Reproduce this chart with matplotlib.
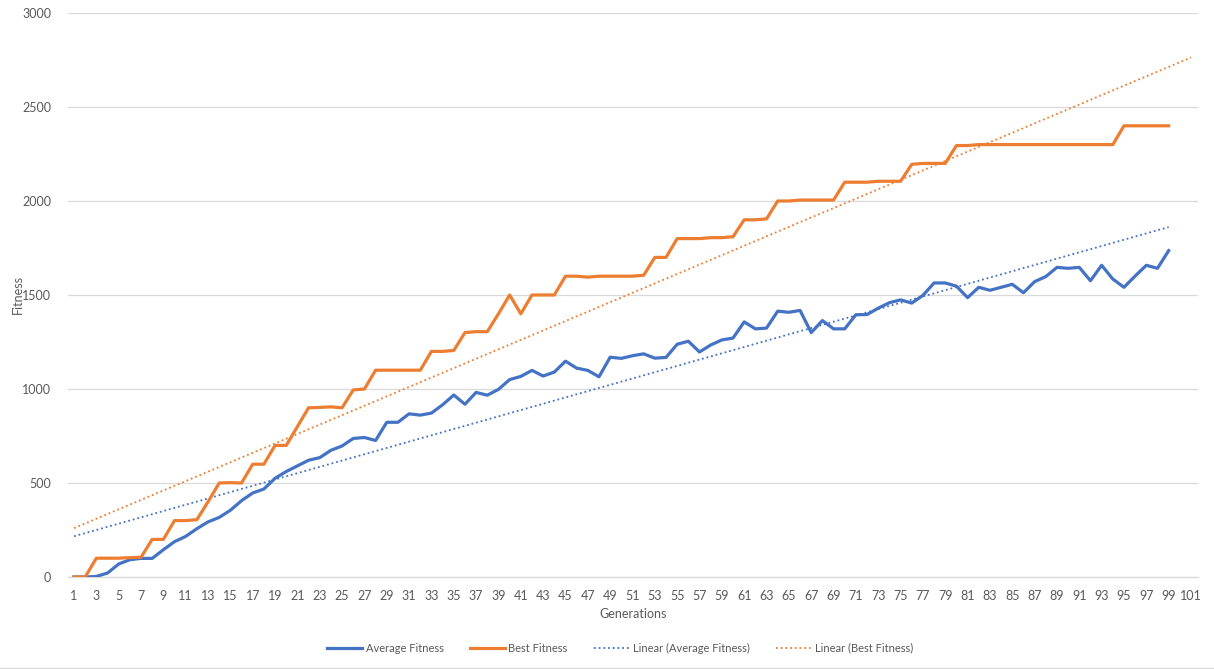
import numpy as np
import matplotlib
matplotlib.use("Agg")
import matplotlib.pyplot as plt
from matplotlib.lines import Line2D

generations = list(range(1, 100))

average_fitness = [
    0, 0, 3, 21, 69, 92, 99, 99, 145, 188,
    216, 257, 293, 317, 355, 406, 447, 468, 525, 561,
    591, 621, 635, 674, 697, 737, 742, 726, 823, 823,
    868, 861, 872, 916, 968, 919, 982, 967, 998, 1050,
    1067, 1099, 1069, 1090, 1148, 1111, 1099, 1065, 1169, 1163,
    1177, 1187, 1164, 1168, 1238, 1254, 1197, 1234, 1261, 1271,
    1357, 1320, 1324, 1414, 1408, 1418, 1300, 1364, 1320, 1320,
    1395, 1396, 1430, 1459, 1474, 1457, 1498, 1564, 1564, 1547,
    1486, 1541, 1525, 1541, 1557, 1512, 1571, 1598, 1647, 1642,
    1647, 1576, 1658, 1585, 1541, 1601, 1658, 1642, 1736,
]

best_fitness = [
    0, 0, 100, 100, 100, 103, 105, 200, 200, 300,
    300, 305, 400, 500, 502, 500, 600, 600, 700, 700,
    800, 900, 902, 905, 900, 995, 1000, 1100, 1100, 1100,
    1100, 1100, 1200, 1200, 1205, 1300, 1305, 1305, 1400, 1500,
    1400, 1500, 1500, 1500, 1600, 1600, 1595, 1600, 1600, 1600,
    1600, 1605, 1700, 1700, 1800, 1800, 1800, 1805, 1805, 1810,
    1900, 1900, 1905, 2000, 2000, 2005, 2005, 2005, 2005, 2100,
    2100, 2100, 2105, 2105, 2105, 2195, 2200, 2200, 2200, 2295,
    2295, 2300, 2300, 2300, 2300, 2300, 2300, 2300, 2300, 2300,
    2300, 2300, 2300, 2300, 2400, 2400, 2400, 2400, 2400,
]

x_tick_labels = [str(v) for v in range(1, 102, 2)]
y_ticks = [0, 500, 1000, 1500, 2000, 2500, 3000]

BLUE = "#4472C4"
ORANGE = "#ED7D31"
TXT = "#595959"
GRID = "#D9D9D9"

plt.rcParams['font.family'] = ['Lato', 'DejaVu Sans']

W, H = 1214, 669
fig = plt.figure(figsize=(W / 100, H / 100), dpi=100)
ax = fig.add_axes([68 / W, (H - 577) / H, (1198 - 68) / W, (577 - 13) / H])

x = np.array(generations, dtype=float)
avg = np.array(average_fitness, dtype=float)
best = np.array(best_fitness, dtype=float)

ax.plot(x, avg, color=BLUE, lw=2.3, solid_joinstyle='round', zorder=3)
ax.plot(x, best, color=ORANGE, lw=2.3, solid_joinstyle='round', zorder=3)

# linear trendlines (least squares)
pa = np.polyfit(x, avg, 1)
pb = np.polyfit(x, best, 1)
xa = np.array([1, 99])
xb = np.array([1, 101])
dot = (0, (1.0, 1.6))
ax.plot(xa, np.polyval(pa, xa), color=BLUE, lw=1.3, ls=dot, zorder=2)
ax.plot(xb, np.polyval(pb, xb), color=ORANGE, lw=1.3, ls=dot, zorder=2)

ax.set_xlim(1 - 6 / 11.17, 101 + 7 / 11.17)
ax.set_ylim(0, 3000)
ax.set_xticks(list(range(1, 102, 2)))
ax.set_xticklabels(x_tick_labels)
ax.set_yticks(y_ticks)
ax.set_yticklabels([str(v) for v in y_ticks])
ax.tick_params(axis='both', length=0, labelsize=9, colors=TXT)
ax.tick_params(axis='x', pad=9)
ax.tick_params(axis='y', pad=12)
ax.grid(axis='y', color=GRID, lw=0.9)
ax.set_axisbelow(True)
for s in ['top', 'right', 'left']:
    ax.spines[s].set_visible(False)
ax.spines['bottom'].set_color(GRID)
ax.spines['bottom'].set_linewidth(0.9)

ax.set_xlabel("Generations", fontsize=9, color=TXT, labelpad=5)
ax.set_ylabel("Fitness", fontsize=9, color=TXT)
ax.yaxis.set_label_coords((24 - 68) / (1198 - 68), 0.5)

handles = [
    Line2D([], [], color=BLUE, lw=2.3),
    Line2D([], [], color=ORANGE, lw=2.3),
    Line2D([], [], color=BLUE, lw=1.3, ls=dot),
    Line2D([], [], color=ORANGE, lw=1.3, ls=dot),
]
labels = ["Average Fitness", "Best Fitness", "Linear (Average Fitness)", "Linear (Best Fitness)"]
fig.legend(handles, labels, loc='center', bbox_to_anchor=(620 / W, (H - 648) / H), ncol=4,
           frameon=False, fontsize=8, handlelength=3.1, handletextpad=0.35,
           columnspacing=2.4, labelcolor=TXT)

fig.add_artist(Line2D([0, 1], [1.5 / H, 1.5 / H], color=GRID, lw=1.0, transform=fig.transFigure))

fig.savefig("out.png", dpi=100)
